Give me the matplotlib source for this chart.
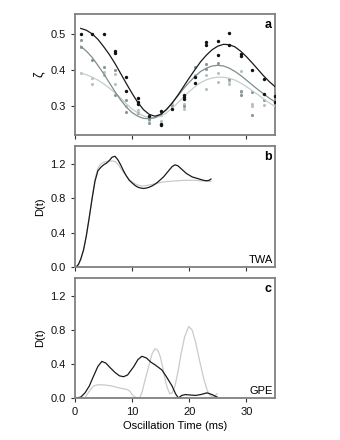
import matplotlib
matplotlib.use("Agg")
import matplotlib.pyplot as plt

plt.rcParams['font.family'] = ['Liberation Sans', 'DejaVu Sans']
plt.rcParams['font.size'] = 8

# ---------------- Panel a data ----------------
black_pts_t = [1, 3, 5, 7, 7, 9, 9, 11, 11, 11, 13, 15, 15, 15, 17, 19, 19, 19, 21, 21,
               23, 23, 25, 25, 27, 27, 29, 29, 31, 33, 33, 35, 35]
black_pts_v = [0.50, 0.50, 0.50, 0.453, 0.446, 0.38, 0.343, 0.322, 0.311, 0.305, 0.272,
               0.286, 0.251, 0.248, 0.291, 0.332, 0.326, 0.320, 0.38, 0.365,
               0.477, 0.470, 0.48, 0.442, 0.503, 0.468, 0.445, 0.438, 0.399, 0.376, 0.334,
               0.328, 0.311]
gray_pts_t = [1, 1, 3, 5, 7, 7, 9, 9, 11, 13, 13, 15, 17, 19, 21, 23, 23, 25, 27, 29, 29,
              31, 31, 33, 35]
gray_pts_v = [0.482, 0.464, 0.428, 0.408, 0.40, 0.331, 0.318, 0.283, 0.282, 0.253, 0.265,
              0.28, 0.30, 0.30, 0.408, 0.417, 0.403, 0.42, 0.376, 0.343, 0.331,
              0.339, 0.274, 0.316, 0.313]
light_pts_t = [1, 3, 3, 5, 5, 7, 7, 9, 11, 13, 15, 15, 17, 19, 19, 21, 23, 23, 25, 25,
               27, 27, 29, 29, 31, 31, 33, 35]
light_pts_v = [0.392, 0.378, 0.362, 0.394, 0.385, 0.39, 0.362, 0.30, 0.29, 0.262, 0.26,
               0.274, 0.307, 0.307, 0.291, 0.385, 0.385, 0.348, 0.392, 0.366,
               0.37, 0.362, 0.396, 0.339, 0.305, 0.30, 0.302, 0.297]

fit_t = list(range(1, 36))
fit_black = [0.515, 0.510, 0.500, 0.485, 0.465, 0.443, 0.418, 0.390, 0.362, 0.335,
             0.310, 0.290, 0.277, 0.272, 0.277, 0.290, 0.308, 0.330, 0.354, 0.378,
             0.401, 0.423, 0.441, 0.456, 0.466, 0.471, 0.470, 0.464, 0.452, 0.437,
             0.420, 0.402, 0.384, 0.368, 0.354]
fit_gray = [0.466, 0.452, 0.435, 0.413, 0.390, 0.365, 0.340, 0.317, 0.297, 0.282,
            0.272, 0.266, 0.265, 0.268, 0.277, 0.291, 0.309, 0.328, 0.348, 0.366,
            0.382, 0.396, 0.405, 0.411, 0.413, 0.411, 0.405, 0.396, 0.385, 0.372,
            0.359, 0.346, 0.334, 0.322, 0.312]
fit_light = [0.392, 0.387, 0.380, 0.372, 0.362, 0.350, 0.337, 0.322, 0.306, 0.292,
             0.281, 0.273, 0.268, 0.268, 0.272, 0.281, 0.294, 0.309, 0.325, 0.340,
             0.354, 0.365, 0.373, 0.378, 0.380, 0.380, 0.377, 0.372, 0.364, 0.354,
             0.343, 0.332, 0.320, 0.309, 0.299]

# ---------------- Panel b data (TWA) ----------------
twa_black_t = [0.2, 0.6, 1.0, 1.5, 2.0, 2.5, 3.0, 3.5, 4.0, 4.5, 5.0, 5.5, 6.0, 6.5, 7.0,
               7.5, 8.0, 8.5, 9.0, 9.5, 10, 10.5, 11, 11.5, 12, 12.5, 13, 13.5, 14,
               14.5, 15, 15.5, 16, 16.5, 17, 17.5, 18, 18.5, 19, 19.5, 20, 20.5, 21,
               21.5, 22, 22.5, 23, 23.5, 23.8]
twa_black_v = [0.0, 0.03, 0.09, 0.20, 0.37, 0.58, 0.80, 1.00, 1.12, 1.16, 1.19, 1.21,
               1.24, 1.28, 1.29, 1.25, 1.19, 1.12, 1.06, 1.01, 0.98, 0.95, 0.93, 0.92,
               0.915, 0.92, 0.93, 0.945, 0.965, 0.99, 1.02, 1.05, 1.09, 1.13, 1.17,
               1.19, 1.18, 1.15, 1.12, 1.09, 1.07, 1.05, 1.04, 1.03, 1.02, 1.01, 1.005,
               1.01, 1.025]
twa_light_t = [0.2, 0.6, 1.0, 1.5, 2.0, 2.5, 3.0, 3.5, 4.0, 4.5, 5.0, 5.5, 6.0, 6.5, 7.0,
               7.5, 8.0, 8.5, 9.0, 9.5, 10, 10.5, 11, 11.5, 12, 12.5, 13, 14, 15, 16,
               17, 18, 19, 20, 21, 22, 23, 23.8]
twa_light_v = [0.0, 0.03, 0.09, 0.20, 0.37, 0.58, 0.81, 1.02, 1.15, 1.20, 1.22, 1.23,
               1.235, 1.235, 1.23, 1.20, 1.15, 1.10, 1.06, 1.02, 0.99, 0.97, 0.955,
               0.945, 0.945, 0.95, 0.955, 0.97, 0.985, 0.995, 1.0, 1.005, 1.01, 1.01,
               1.01, 1.005, 1.0, 0.995]

# ---------------- Panel c data (GPE) ----------------
gpe_black_t = [0.2, 1.0, 1.75, 2.5, 3.2, 4.0, 4.7, 5.4, 6.1, 7.0, 7.8, 8.5, 9.2, 10.3,
               11.0, 11.7, 12.5, 13.3, 14.0, 15.2, 16.0, 17.0, 17.6, 18.1, 18.7, 19.3,
               20.2, 21.1, 22.0, 23.1, 24.0, 24.9]
gpe_black_v = [0.0, 0.01, 0.06, 0.14, 0.25, 0.37, 0.43, 0.41, 0.36, 0.30, 0.26, 0.25,
               0.27, 0.37, 0.45, 0.49, 0.47, 0.42, 0.39, 0.33, 0.25, 0.14, 0.05, 0.0,
               0.03, 0.04, 0.035, 0.03, 0.04, 0.06, 0.04, 0.01]
gpe_light_t = [1.7, 2.4, 3.2, 4.0, 4.7, 5.5, 6.5, 7.6, 8.4, 9.1, 9.6, 10.0, 10.5, 10.9,
               11.3, 11.7, 12.3, 12.9, 13.5, 14.0, 14.5, 14.9, 15.4, 15.8, 16.2, 16.6,
               17.0, 17.5, 18.0, 18.6, 19.2, 19.9, 20.5, 21.1, 21.8, 22.6, 23.2, 23.8,
               24.4, 24.9]
gpe_light_v = [0.0, 0.07, 0.14, 0.155, 0.155, 0.15, 0.14, 0.12, 0.11, 0.10, 0.08, 0.04,
               0.01, 0.0, 0.0, 0.06, 0.22, 0.37, 0.52, 0.58, 0.56, 0.49, 0.35, 0.21,
               0.11, 0.05, 0.06, 0.14, 0.30, 0.53, 0.72, 0.84, 0.80, 0.66, 0.44, 0.21,
               0.08, 0.02, 0.02, 0.05]

xticks = [0, 10, 20, 30]

BLACK = '#1a1a1a'
GRAY = '#7e8e8e'
LIGHT = '#c6cccc'
SPINE = '#808080'
LW = 0.9

fig = plt.figure(figsize=(3.4, 4.4), dpi=100)
axa = fig.add_axes([0.2206, 0.6932, 0.588, 0.275])
axb = fig.add_axes([0.2206, 0.3932, 0.588, 0.275])
axc = fig.add_axes([0.2206, 0.0955, 0.588, 0.2727])

for ax in (axa, axb, axc):
    for s in ax.spines.values():
        s.set_color(SPINE)
        s.set_linewidth(1.3)
    ax.set_xlim(0, 35)
    ax.set_xticks(xticks)
    ax.tick_params(direction='out', length=3, width=0.8, colors='#333333',
                   labelsize=8, labelcolor='#111111', top=False, right=False)

# Panel a
axa.scatter(light_pts_t, light_pts_v, s=5, color='#b8c0c0', linewidths=0, zorder=2)
axa.scatter(gray_pts_t, gray_pts_v, s=5, color='#889898', linewidths=0, zorder=3)
axa.scatter(black_pts_t, black_pts_v, s=6, color='#111111', linewidths=0, zorder=4)
axa.plot(fit_t, fit_light, color=LIGHT, lw=LW, zorder=3)
axa.plot(fit_t, fit_gray, color=GRAY, lw=LW, zorder=3)
axa.plot(fit_t, fit_black, color=BLACK, lw=LW, zorder=5)
axa.set_ylim(0.22, 0.555)
axa.set_yticks([0.3, 0.4, 0.5])
axa.set_yticklabels(['0.3', '0.4', '0.5'])
axa.set_xticklabels([])
axa.set_ylabel('ζ', fontsize=9, labelpad=4)
axa.text(0.985, 0.96, 'a', transform=axa.transAxes, ha='right', va='top',
         fontsize=9, fontweight='bold')

# Panel b
axb.plot(twa_light_t, twa_light_v, color=LIGHT, lw=LW)
axb.plot(twa_black_t, twa_black_v, color=BLACK, lw=LW)
axb.set_ylim(0, 1.41)
axb.set_yticks([0.0, 0.4, 0.8, 1.2])
axb.set_yticklabels(['0.0', '0.4', '0.8', '1.2'])
axb.set_xticklabels([])
axb.set_ylabel('D(t)', fontsize=8, labelpad=4)
axb.text(0.985, 0.96, 'b', transform=axb.transAxes, ha='right', va='top',
         fontsize=9, fontweight='bold')
axb.text(0.99, 0.02, 'TWA', transform=axb.transAxes, ha='right', va='bottom', fontsize=8)

# Panel c
axc.plot(gpe_light_t, gpe_light_v, color=LIGHT, lw=LW)
axc.plot(gpe_black_t, gpe_black_v, color=BLACK, lw=LW)
axc.set_ylim(0, 1.41)
axc.set_yticks([0.0, 0.4, 0.8, 1.2])
axc.set_yticklabels(['0.0', '0.4', '0.8', '1.2'])
axc.set_xticklabels([str(v) for v in xticks])
axc.set_ylabel('D(t)', fontsize=8, labelpad=4)
axc.set_xlabel('Oscillation Time (ms)', fontsize=8, labelpad=3)
axc.text(0.985, 0.96, 'c', transform=axc.transAxes, ha='right', va='top',
         fontsize=9, fontweight='bold')
axc.text(0.99, 0.02, 'GPE', transform=axc.transAxes, ha='right', va='bottom', fontsize=8)

fig.savefig('out.png', dpi=100)
